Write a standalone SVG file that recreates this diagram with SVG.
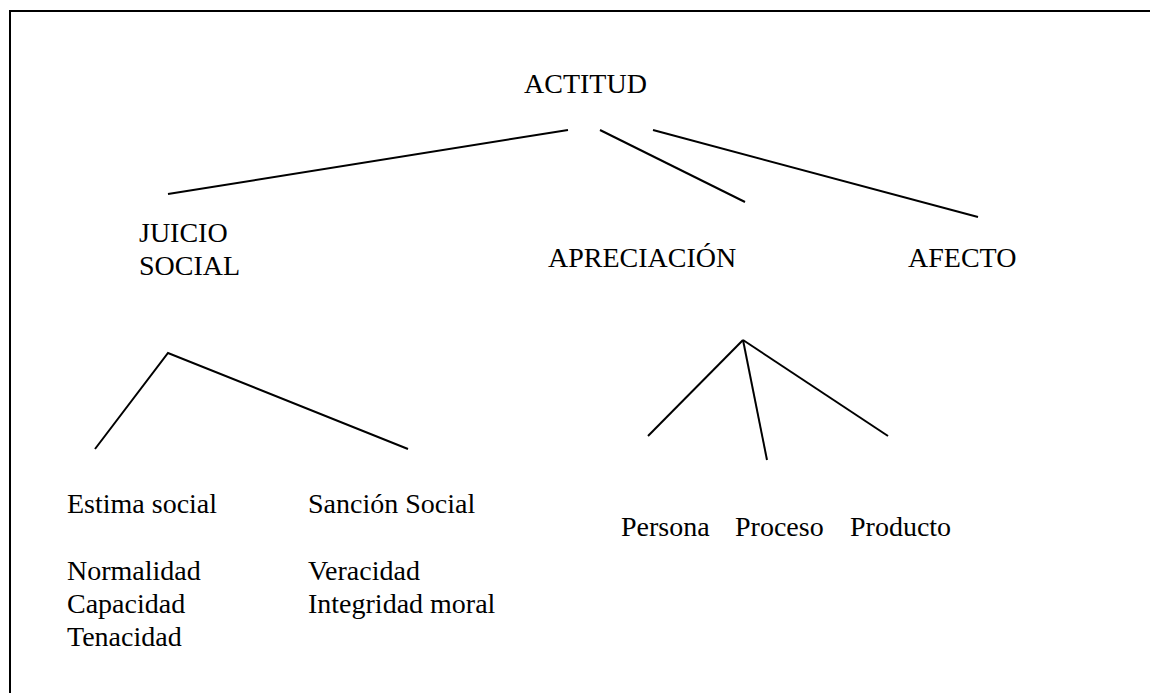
<svg xmlns="http://www.w3.org/2000/svg" width="1150" height="693" viewBox="0 0 1150 693">
<style>
text{font-family:"Liberation Serif","Times New Roman",serif;font-size:28px;fill:#000}
.ln{stroke:#000;stroke-width:2;fill:none}
</style>
<rect width="1150" height="693" fill="#fff"/>
<path class="ln" d="M10,693 V11 H1150"/>
<g id="connectors">
<line class="ln" x1="568" y1="130" x2="168" y2="194"/>
<line class="ln" x1="600" y1="130" x2="745" y2="202"/>
<line class="ln" x1="653" y1="130" x2="978" y2="217"/>
<polyline class="ln" points="95,449 168,353 408,449"/>
<line class="ln" x1="648" y1="436" x2="743" y2="340"/>
<line class="ln" x1="743" y1="340" x2="767" y2="460"/>
<line class="ln" x1="743" y1="340" x2="888" y2="436"/>
</g>
<g id="actitud"><text x="524" y="93">ACTITUD</text></g>
<g id="juicio"><text x="139" y="242">JUICIO</text><text x="139" y="275">SOCIAL</text></g>
<g id="apreciacion"><text x="548" y="267">APRECIACIÓN</text></g>
<g id="afecto"><text x="908" y="267">AFECTO</text></g>
<g id="estima"><text x="67" y="513">Estima social</text><text x="67" y="580">Normalidad</text><text x="67" y="613">Capacidad</text><text x="67" y="646">Tenacidad</text></g>
<g id="sancion"><text x="308" y="513">Sanción Social</text><text x="308" y="580">Veracidad</text><text x="308" y="613">Integridad moral</text></g>
<g id="persona"><text x="621" y="536">Persona</text></g>
<g id="proceso"><text x="735" y="536">Proceso</text></g>
<g id="producto"><text x="850" y="536">Producto</text></g>
</svg>
